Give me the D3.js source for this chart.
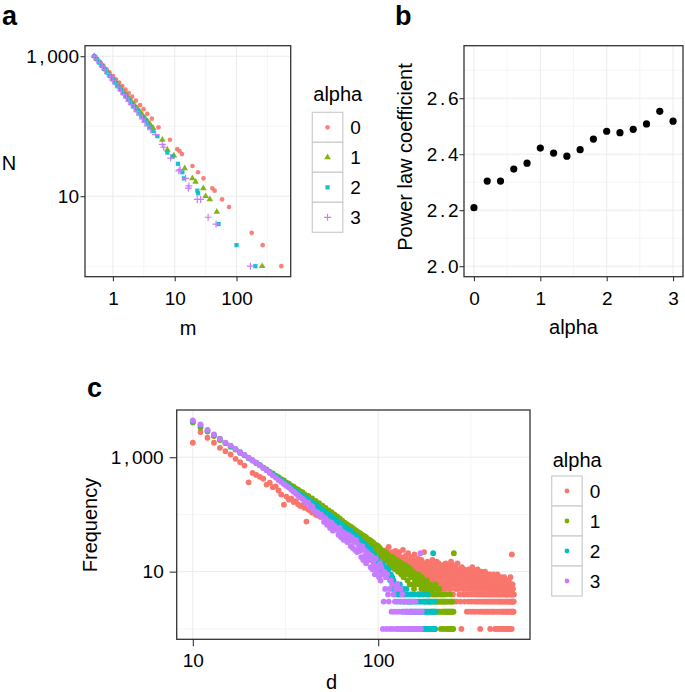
<!DOCTYPE html>
<html><head><meta charset="utf-8">
<script src="https://cdn.jsdelivr.net/npm/d3@7"></script>
<style>body{margin:0;background:#fff} svg text{font-family:"Liberation Sans",Arial,Helvetica,sans-serif;fill:#000}</style>
</head><body><svg id="c" width="685" height="692"></svg>
<script>
// ---------- data ----------
const alphaLevels = ["0","1","2","3"];
const colors = ["#F8766D","#7CAE00","#00BFC4","#C77CFF"];

// panel a: m vs N for each alpha
const mA0 = [0.5,0.56,0.63,0.7,0.79,0.88,1.0,1.12,1.26,1.42,1.6,1.8,2.05,2.35,2.75,3.13,3.6,4.26,5.46,8.37,11.0,12.0,13.1,19.4,23.8,29.2,40.6,44.2,58.4,75.7,176,265,532];
const nA0 = [1000,906,809,733,652,589,522,469,420,375,333,298,264,232,200,175,150,128,96,64,47,44,40,27,22,18,13,12,9,7,3,2,1];
const mA1 = [0.5,0.55,0.61,0.67,0.74,0.82,0.9,1.0,1.1,1.22,1.35,1.5,1.65,1.82,2.0,2.2,2.45,2.7,3.0,3.3,3.65,4.0,4.47,6.3,7.6,9.7,14.5,19.3,21.8,29,31.6,37,48,260];
const nA1 = [1000,910,815,736,661,589,532,476,429,384,344,308,277,250,225,203,181,163,145,131,117,106,94,64,46,38,25,18,16,13,10,9,6,1];
const mA2 = [0.5,0.55,0.61,0.67,0.74,0.82,0.9,1.0,1.1,1.22,1.35,1.5,1.65,1.82,2.0,2.2,2.45,2.7,3.0,3.3,3.65,4.0,4.5,5.26,7.6,9.2,11.3,13.3,14.1,23.2,23.9,51.3,100,202];
const nA2 = [1000,906,806,726,650,578,520,463,415,369,330,294,263,236,212,191,169,152,135,121,108,98,85,72,42,37,29,22,18,12,11,4,2,1];
const mA3 = [0.5,0.55,0.61,0.67,0.74,0.82,0.9,1.0,1.1,1.22,1.35,1.5,1.65,1.82,2.0,2.2,2.45,2.7,3.0,3.3,3.65,4.1,4.9,6.3,6.65,8.6,11.7,12.2,15,16.6,17,23.2,26.3,34.7,46.7,168];
const nA3 = [1000,903,801,719,641,569,511,452,405,360,320,283,254,227,203,182,161,144,127,114,101,89,76,55,50,35,23,24,18,13,14,9,9,5,4,1];

// panel b: power-law coefficient by alpha
const alphaB = [0,0.2,0.4,0.6,0.8,1,1.2,1.4,1.6,1.8,2,2.2,2.4,2.6,2.8,3];
const coefB  = [2.209,2.304,2.304,2.347,2.368,2.422,2.404,2.393,2.416,2.454,2.482,2.477,2.489,2.508,2.553,2.518];

// panel c: frequency of degree d (d starts at 10, one value per d; 0 = absent)
const dStart = 10;
const freqC0 = [1790,2750,2190,1790,1460,1275,1115,937,817,715,
 364,532,490,455,420,332,360,300,310,262,
 222,148,205,181,190,165,170,150,140,145,
 130,75,122,118,108,112,100,96,104,90,
 110,96,88,100,82,86,78,72,80,68,
 66,72,61,58,64,55,52,57,49,50,
 53,45,48,42,46,40,38,43,36,39,
 35,37,33,30,34,31,28,32,27,29,
 26,30,25,27,23,26,22,24,21,25,
 22,19,23,20,18,21,17,22,19,16,
 20,24,16,19,27,17,21,15,18,22,
 17,14,20,16,23,13,18,15,19,12,
 22,16,13,18,11,15,24,14,12,17,
 13,19,10,15,12,21,14,9,16,11,
 14,18,10,13,9,16,12,20,11,8,
 15,10,13,7,17,11,9,14,12,8,
 11,16,9,13,7,12,10,22,8,14,
 10,7,13,9,15,8,11,6,12,9,
 14,8,10,7,12,9,16,6,11,8,
 9,13,7,10,6,12,8,15,9,5,
 11,8,14,7,10,6,9,12,5,8,
 10,7,13,9,6,11,8,5,12,7,
 9,14,6,10,8,7,11,5,9,13,
 7,10,6,12,8,5,9,15,7,10,
 6,11,8,4,9,13,7,3,10,6,
 8,12,5,9,7,3,10,6,14,8,
 5,9,7,11,4,8,6,10,3,7,
 9,1,6,12,8,5,10,7,4,9,
 6,11,8,3,7,10,5,9,6,4,
 8,2,10,6,5,9,7,3,11,6,
 4,8,6,2,9,5,7,10,3,6,
 8,5,12,4,7,2,6,9,5,3,
 7,10,4,6,2,8,5,9,3,7,
 6,4,8,5,11,3,7,2,6,4,
 5,9,4,7,3,1,8,6,2,5,
 10,4,7,3,6,8,2,5,9,4,
 6,3,8,5,2,7,4,10,6,3,
 5,8,2,6,4,7,3,9,5,2,
 7,4,6,3,8,5,2,6,4,9,
 3,6,1,5,8,4,7,2,6,3,
 5,8,4,2,7,3,6,5,9,4,
 2,6,3,5,8,4,7,1,5,3,
 6,2,8,4,5,1,7,3,6,4,
 9,5,2,6,4,7,3,1,5,8,
 4,6,2,5,3,7,1,4,6,3,
 5,8,2,4,6,1,3,7,5,2,
 6,4,3,7,1,5,2,6,4,8,
 3,5,1,6,4,2,7,3,5,4,
 6,2,4,1,5,3,7,4,2,6,
 4,1,5,3,6,2,4,7,1,5,
 3,6,2,4,1,5,3,8,4,2,
 5,3,6,2,4,1,20,3,5,2,
 4,6,3,2,5,3,4,0,2,3,4];
const freqC1 = [4050,3300,2800,2350,2000,1760,1520,1360,1190,1080,
 960,880,785,725,655,610,555,520,475,450,
 412,392,360,345,318,305,282,272,252,245,
 226,208,210,186,190,168,172,152,158,140,
 142,124,130,113,118,104,110,94,100,86,
 92,80,85,74,78,69,72,64,67,58,
 63,55,60,50,56,47,52,44,49,41,
 47,39,44,37,42,35,40,33,37,31,
 36,29,34,27,32,26,30,25,29,23,
 28,24,26,21,24,19,23,20,17,21,
 22,16,20,15,19,13,18,15,17,12,
 18,14,16,11,15,12,16,13,10,14,
 15,12,13,9,14,11,12,8,13,10,
 13,9,11,10,7,12,9,10,6,11,
 11,8,9,6,10,8,5,9,7,8,
 9,6,8,7,4,9,6,7,4,8,
 7,5,8,6,4,7,5,3,6,5,
 6,4,5,7,3,5,4,6,3,5,
 4,6,3,5,2,4,5,3,4,2,
 5,3,4,2,6,3,4,2,3,5,
 3,4,2,3,5,2,3,4,1,3,
 2,4,3,2,3,1,4,2,3,2,
 3,2,4,1,2,3,2,3,1,2,
 2,3,1,2,4,2,3,1,2,3,
 2,1,3,2,1,2,21];
const freqC2 = [4200,3600,2950,2450,2080,1780,1560,1380,1220,1090,
 975,880,800,725,660,600,545,500,458,420,
 390,360,335,310,290,272,255,238,224,210,
 200,190,182,170,164,150,150,136,134,122,
 120,110,110,98,100,90,92,80,84,74,
 76,72,68,70,62,64,56,59,53,51,
 49,52,45,46,41,44,38,36,40,34,
 35,31,33,28,30,26,29,24,26,22,
 23,25,19,21,18,20,16,18,15,17,
 15,13,14,12,13,10,14,11,9,10,
 12,9,10,8,11,8,7,9,7,8,
 5,7,6,4,6,5,3,6,4,5,
 4,6,3,5,4,2,5,3,4,3,
 4,2,5,3,2,4,3,1,3,2,
 3,4,2,3,1,2,4,3,2,1,
 2,3,1,2,3,4,1,2,3,2,
 1,3,2,4,1,2,3,1,2,3,
 2,1,3,2,1,4,2,3,1,2,
 3,1,2,1,3,2,1,2,21,1,
 2,1,3,1,2];
const freqC3 = [4400,3750,3000,2500,2100,1800,1600,1400,1230,1100,
 980,880,800,720,650,590,530,480,440,400,
 370,340,315,295,270,250,232,215,200,188,
 175,158,160,132,140,118,112,108,96,100,
 92,74,86,66,76,58,72,52,64,55,
 54,44,58,40,50,36,47,38,33,44,
 35,28,40,26,33,24,36,22,30,25,
 23,18,28,16,24,19,14,22,17,20,
 16,12,19,11,15,13,9,17,12,10,
 11,8,14,7,12,9,1,3,10,5,
 8,1,9,4,3,5,1,7,2,6,
 1,4,2,3,5,1,2,6,1,3,
 2,1,5,3,1,4,2,1,3,2,
 1,2,3,1,2,1,3,2,1,2,
 1,2,3,1,2,1,1,2,1,3,
 1,2,1,1,2,1,1,0,2,21,
 1,0,2];

// ---------- drawing ----------
const svg = d3.select("#c");
const TICK = "#333333", BORDER = "#333333", GRIDMAJ = "#EBEBEB", GRIDMIN = "#F5F5F5";
const tickFs = 19, titleFs = 20;

function panel(x, y, xMaj, xMin, yMaj, yMin) {
  const [x0, x1] = x.range(), [y1, y0] = y.range();
  const g = svg.append("g");
  g.append("rect").attr("x", x0).attr("y", y0).attr("width", x1 - x0).attr("height", y1 - y0).attr("fill", "#fff");
  xMin.forEach(v => g.append("line").attr("x1", x(v)).attr("x2", x(v)).attr("y1", y0).attr("y2", y1).attr("stroke", GRIDMIN));
  yMin.forEach(v => g.append("line").attr("y1", y(v)).attr("y2", y(v)).attr("x1", x0).attr("x2", x1).attr("stroke", GRIDMIN));
  xMaj.forEach(v => g.append("line").attr("x1", x(v)).attr("x2", x(v)).attr("y1", y0).attr("y2", y1).attr("stroke", GRIDMAJ));
  yMaj.forEach(v => g.append("line").attr("y1", y(v)).attr("y2", y(v)).attr("x1", x0).attr("x2", x1).attr("stroke", GRIDMAJ));
}
function border(x, y) {
  const [x0, x1] = x.range(), [y1, y0] = y.range();
  svg.append("rect").attr("x", x0).attr("y", y0).attr("width", x1 - x0).attr("height", y1 - y0)
    .attr("fill", "none").attr("stroke", BORDER).attr("stroke-width", 1.3);
}
// widen punctuation to a digit-wide cell, as in the reference's tick font
function spacePunct(sel, fs) {
  const gap = 0.139 * fs;
  sel.each(function () {
    const s = this.textContent;
    if (!/[.,]/.test(s)) return;
    const t = d3.select(this).text(null);
    let pending = 0;
    for (const ch of s) {
      const ts = t.append("tspan").text(ch);
      if (ch === "." || ch === ",") { ts.attr("dx", gap); pending = gap; }
      else if (pending) { ts.attr("dx", pending); pending = 0; }
    }
  });
}
function axes(x, y, xTicks, yTicks, xFmt, yFmt, o) {
  const [x0] = x.range(), [y1] = y.range();
  const ax = svg.append("g").attr("transform", `translate(0,${y1})`)
    .call(d3.axisBottom(x).tickValues(xTicks).tickFormat(xFmt).tickSize(o.tick).tickPadding(o.padX));
  const ay = svg.append("g").attr("transform", `translate(${x0},0)`)
    .call(d3.axisLeft(y).tickValues(yTicks).tickFormat(yFmt).tickSize(o.tick).tickPadding(o.padY));
  [ax, ay].forEach(a => {
    a.select(".domain").remove();
    a.selectAll(".tick line").attr("stroke", TICK).attr("stroke-width", 1.1);
    const tx = a.selectAll(".tick text").attr("font-size", tickFs).attr("fill", "#000")
      .style("font-family", '"Liberation Sans",Arial,sans-serif');
    spacePunct(tx, tickFs);
  });
}
function label(txt, x, y, opts = {}) {
  const t = svg.append("text").attr("x", x).attr("y", y).text(txt)
    .attr("font-size", opts.fs || titleFs).attr("text-anchor", opts.anchor || "middle");
  if (opts.bold) t.attr("font-weight", "bold");
  if (opts.rot) t.attr("transform", `rotate(-90,${x},${y})`);
  return t;
}
function legend(x0, yTitle, yKeys, drawKey) {
  label("alpha", x0 + 1, yTitle, { anchor: "start" });
  alphaLevels.forEach((lv, i) => {
    const ky = yKeys + i * 30;
    svg.append("rect").attr("x", x0).attr("y", ky).attr("width", 30.5).attr("height", 30)
      .attr("fill", "#fff").attr("stroke", "#CCCCCC").attr("stroke-width", 1.2);
    drawKey(i, x0 + 15.25, ky + 15);
    label(lv, x0 + 38, ky + 22, { anchor: "start", fs: tickFs });
  });
}

// shapes for panel a
const symCircle = d3.symbol().type(d3.symbolCircle).size(17)();
const symTri = d3.symbol().type(d3.symbolTriangle).size(19)();
const symSq = d3.symbol().type(d3.symbolSquare).size(18)();
const plusPath = "M-3.5,0H3.5M0,-3.5V3.5";
function shapeA(sel, i) {
  if (i === 3) return sel.append("path").attr("d", plusPath).attr("fill", "none").attr("stroke", colors[3]).attr("stroke-width", 1.2);
  return sel.append("path").attr("d", [symCircle, symTri, symSq][i]).attr("fill", colors[i]).attr("opacity", 0.92);
}

// ---- Panel a ----
const xA = d3.scaleLog().domain([10 ** -0.452, 10 ** 2.877]).range([85, 290.7]);
const yA = d3.scaleLog().domain([10 ** -0.15, 10 ** 3.15]).range([276.7, 45.7]);
panel(xA, yA, [1, 10, 100], [10 ** 0.5, 10 ** 1.5, 10 ** 2.5], [10, 1000], [1, 100]);
const seriesA = [[mA0, nA0], [mA1, nA1], [mA2, nA2], [mA3, nA3]];
seriesA.forEach(([ms, ns], i) => {
  const g = svg.append("g");
  ms.forEach((m, k) => shapeA(g, i).attr("transform", `translate(${xA(m)},${yA(ns[k])})`));
});
border(xA, yA);
axes(xA, yA, [1, 10, 100], [10, 1000], d3.format(","), d3.format(","), { tick: 4.5, padX: 10, padY: 1.5 });
label("N", 9, 170);
label("m", 188, 335);
legend(312.3, 101, 112.3, (i, cx, cy) => shapeA(svg, i).attr("transform", `translate(${cx},${cy})`));
label("a", 2, 25, { anchor: "start", bold: true, fs: 27 });

// ---- Panel b ----
const xB = d3.scaleLinear().domain([-0.15, 3.15]).range([464, 683]);
const yB = d3.scaleLinear().domain([1.9625, 2.7875]).range([276.7, 45.7]);
panel(xB, yB, [0, 1, 2, 3], [0.5, 1.5, 2.5], [2.0, 2.2, 2.4, 2.6], [2.1, 2.3, 2.5, 2.7]);
svg.append("g").selectAll("circle").data(alphaB).join("circle")
  .attr("cx", d => xB(d)).attr("cy", (d, k) => yB(coefB[k])).attr("r", 3.6).attr("fill", "#000");
border(xB, yB);
axes(xB, yB, [0, 1, 2, 3], [2.0, 2.2, 2.4, 2.6], d3.format("d"), d3.format(".1f"), { tick: 4.5, padX: 10, padY: 1 });
label("Power law coefficient", 411.5, 157, { rot: true });
label("alpha", 573.5, 334);
label("b", 395, 25, { anchor: "start", bold: true, fs: 27 });

// ---- Panel c ----
const xC = d3.scaleLog().domain([10 ** 0.913, 10 ** 2.819]).range([176.7, 530]);
const yC = d3.scaleLog().domain([10 ** -0.182, 10 ** 3.825]).range([639.3, 410]);
panel(xC, yC, [10, 100], [10 ** 1.5, 10 ** 2.5], [10, 1000], [1, 100]);
[freqC0, freqC1, freqC2, freqC3].forEach((fr, i) => {
  const pts = fr.map((f, k) => ({ d: dStart + k, f })).filter(p => p.f > 0);
  svg.append("g").selectAll("circle").data(pts).join("circle")
    .attr("cx", p => xC(p.d)).attr("cy", p => yC(p.f)).attr("r", 2.9).attr("fill", colors[i]);
});
border(xC, yC);
axes(xC, yC, [10, 100], [10, 1000], d3.format(","), d3.format(","), { tick: 7, padX: 7, padY: 6 });
label("Frequency", 96.5, 525, { rot: true });
label("d", 331.5, 689);
legend(551.7, 467, 476, (i, cx, cy) => svg.append("circle").attr("cx", cx).attr("cy", cy).attr("r", 2.4).attr("fill", colors[i]));
label("c", 87, 397, { anchor: "start", bold: true, fs: 27 });
</script></body></html>
